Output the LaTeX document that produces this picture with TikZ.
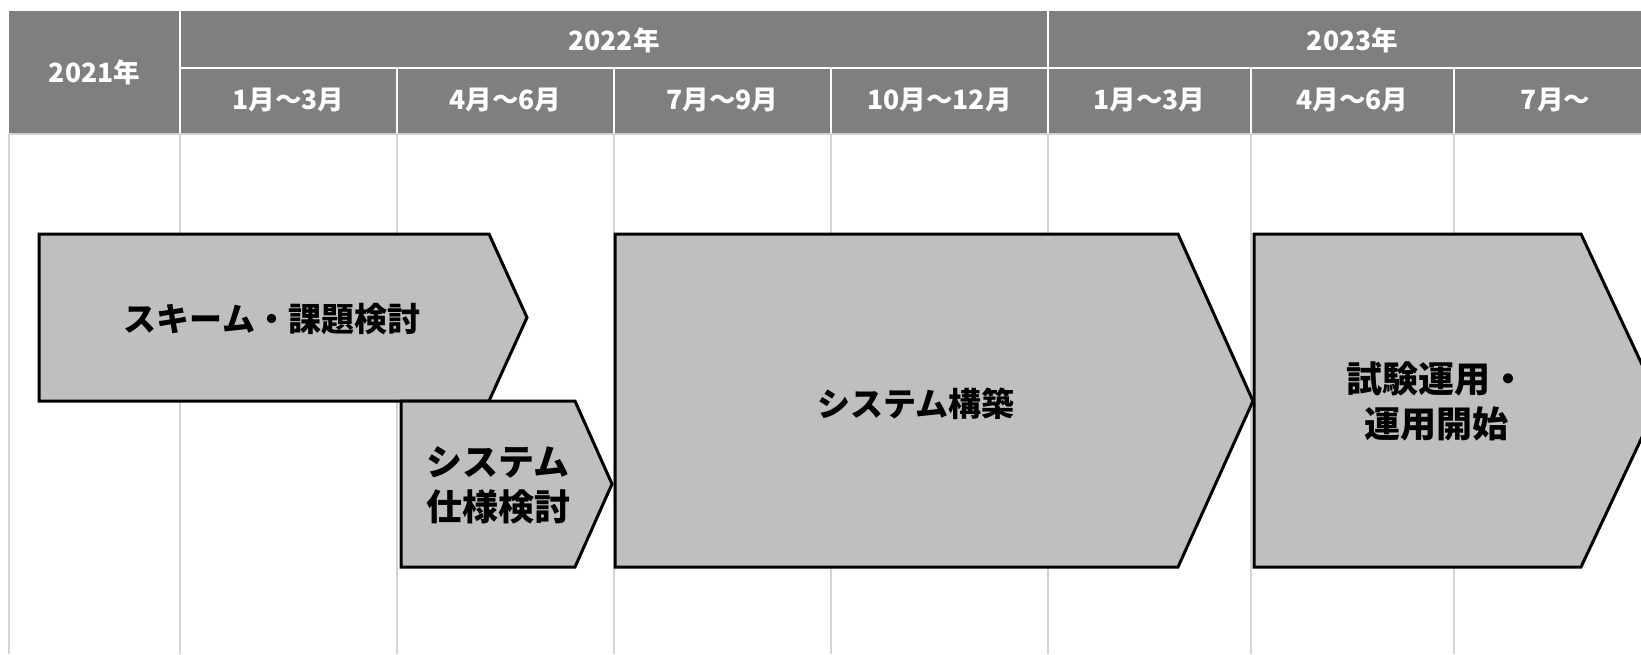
\documentclass[tikz,border=0pt]{standalone}
\usepackage{fontspec}
\setmainfont{Noto Sans CJK JP}
\definecolor{hdrgray}{HTML}{7F7F7F}
\definecolor{taskgray}{HTML}{BFBFBF}
\definecolor{gridgray}{HTML}{D4D4D4}
\begin{document}
\begin{tikzpicture}[x=1pt,y=-1pt,
  hdr/.style={text=white,font=\bfseries\fontsize{26.5}{30}\selectfont,inner sep=0pt},
  task/.style={fill=taskgray,draw=black,line width=3pt,line join=miter},
  tlabel/.style={font=\bfseries\fontsize{36}{45}\selectfont,align=center,inner sep=0pt},
  tlabelsm/.style={font=\bfseries\fontsize{33}{40}\selectfont,align=center,inner sep=0pt},
  gridline/.style={draw=gridgray,line width=2pt},
  sepline/.style={draw=white,line width=2pt}]
\useasboundingbox (0,0) rectangle (1641,654);
\clip (0,0) rectangle (1641,654);
% header background
\fill[hdrgray] (9,11) rectangle (1660,133);
% grid lines of the body
\foreach \x in {9,180,397,614,831,1048,1251,1454}
  \draw[gridline] (\x,134) -- (\x,654);
\draw[gridline] (9,134) -- (1660,134);
% header separators
\draw[sepline] (180,11) -- (180,133);
\draw[sepline] (1048,11) -- (1048,133);
\draw[sepline] (180,68) -- (1660,68);
\foreach \x in {397,614,831,1251,1454}
  \draw[sepline] (\x,68) -- (\x,133);
% header labels
\node[hdr] (y2021) at (94.5,72) {2021年};
\node[hdr] (y2022) at (614,40) {2022年};
\node[hdr] (y2023) at (1352.5,40) {2023年};
\node[hdr] (q1) at (288.5,100.5) {1月〜3月};
\node[hdr] (q2) at (505.5,100.5) {4月〜6月};
\node[hdr] (q3) at (722.5,100.5) {7月〜9月};
\node[hdr] (q4) at (939.5,100.5) {10月〜12月};
\node[hdr] (q5) at (1149.5,100.5) {1月〜3月};
\node[hdr] (q6) at (1352.5,100.5) {4月〜6月};
\node[hdr] (q7) at (1555.5,100.5) {7月〜};
% task arrows
\draw[task] (39,234) -- (489,234) -- (527,317.5) -- (489,401) -- (39,401) -- cycle;
\draw[task] (401,401) -- (575,401) -- (612,484) -- (575,567) -- (401,567) -- cycle;
\draw[task] (615,234) -- (1178,234) -- (1253,401) -- (1178,567) -- (615,567) -- cycle;
\draw[task] (1254,234) -- (1581,234) -- (1659,401) -- (1581,567) -- (1254,567) -- cycle;
% task labels
\node[tlabelsm] (t1) at (272,319) {スキーム・課題検討};
\node[tlabel] (t2) at (498,485) {システム\\仕様検討};
\node[tlabelsm] (t3) at (916,404) {システム構築};
\node[tlabel] (t4) at (1436,401) {試験運用・\\運用開始};
\end{tikzpicture}
\end{document}
